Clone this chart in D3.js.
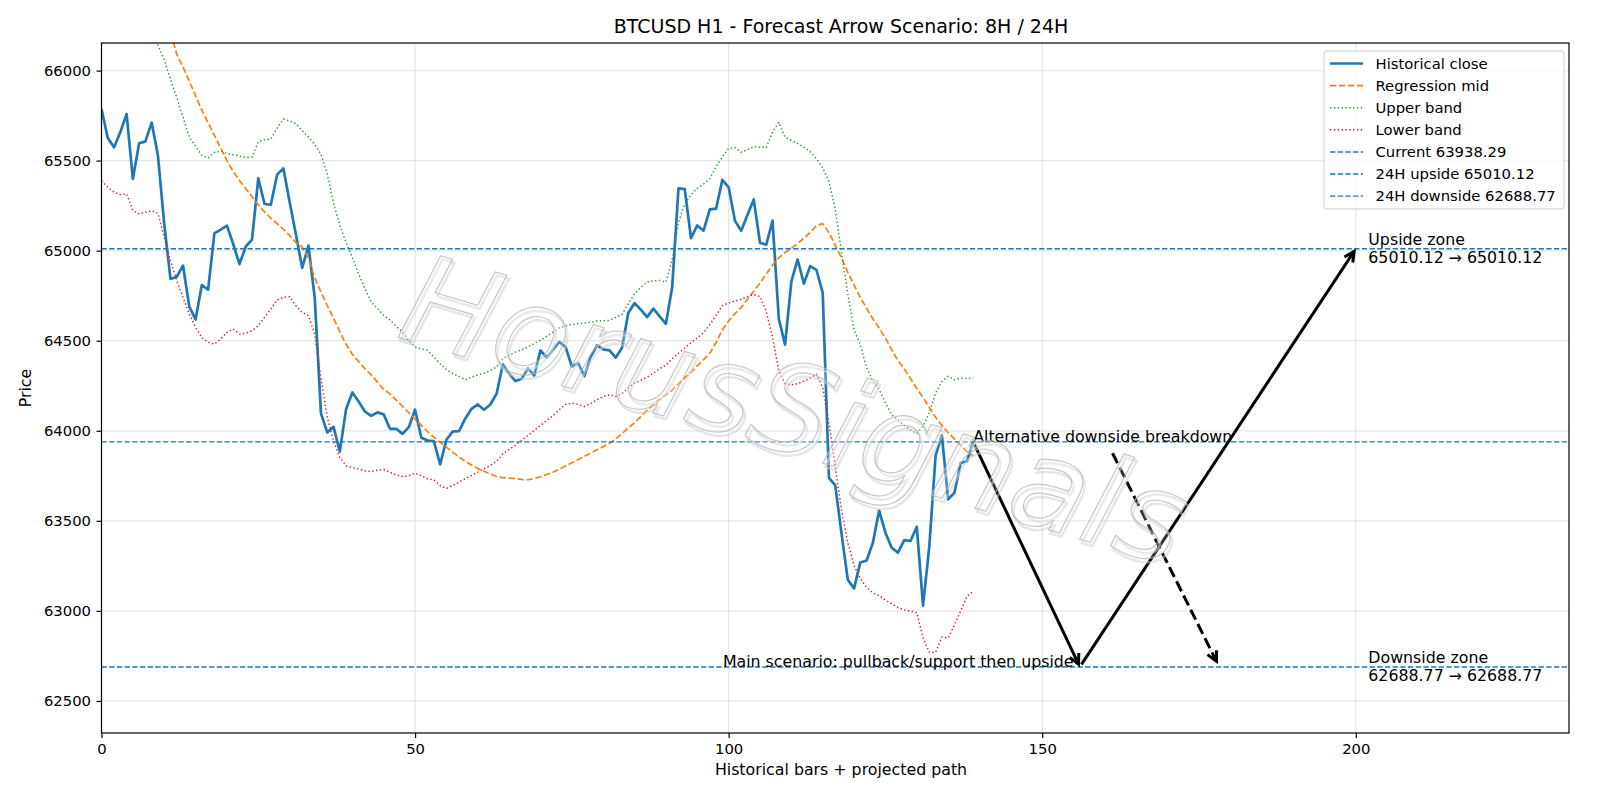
<!DOCTYPE html>
<html>
<head>
<meta charset="utf-8">
<script src="https://cdn.jsdelivr.net/npm/d3@7"></script>
<style>
html, body { margin: 0; padding: 0; background: #fff; }
svg { display: block; }
</style>
</head>
<body>
<div id="chart"></div>
<script>
// historical closes, one per H1 bar (index 0..139)
const closeVals = [
  65787, 65626, 65574, 65657, 65759, 65398, 65596, 65607, 65711, 65528,
  65150, 64843, 64855, 64917, 64689, 64618, 64809, 64783, 65096, 65117,
  65139, 65037, 64926, 65022, 65061, 65402, 65259, 65255, 65422, 65457,
  65270, 65090, 64904, 65028, 64740, 64096, 63991, 64022, 63885, 64120,
  64213, 64163, 64107, 64083, 64102, 64091, 64011, 64011, 63983, 64020,
  64117, 63961, 63946, 63943, 63813, 63950, 63996, 63998, 64067, 64122,
  64146, 64117, 64146, 64206, 64369, 64317, 64276, 64289, 64346, 64307,
  64446, 64406, 64450, 64493, 64465, 64357, 64376, 64304, 64409, 64474,
  64452, 64446, 64406, 64461, 64654, 64709, 64672, 64631, 64678, 64635,
  64594, 64798, 65346, 65342, 65070, 65140, 65111, 65229, 65233, 65393,
  65352, 65167, 65111, 65198, 65284, 65044, 65033, 65167, 64622, 64478,
  64828, 64951, 64817, 64914, 64893, 64766, 63738, 63697, 63430, 63173,
  63125, 63269, 63280, 63378, 63557, 63434, 63351, 63323, 63393, 63388,
  63467, 63029, 63358, 63862, 63975, 63619, 63656, 63821, 63831, 63938.29
];

// regression mid (first bars are not available)
const midVals = [
  null, null, null, null, null, null, null, null, null, null,
  66300, 66220, 66090, 66020, 65940, 65860, 65780, 65710, 65640, 65570,
  65500, 65440, 65390, 65345, 65300, 65255, 65215, 65180, 65150, 65120,
  65085, 65045, 65020, 64960, 64850, 64770, 64695, 64625, 64550, 64480,
  64425, 64385, 64345, 64310, 64270, 64230, 64205, 64170, 64135, 64100,
  64065, 64030, 63995, 63965, 63935, 63909, 63880, 63855, 63830, 63810,
  63790, 63775, 63760, 63746, 63740, 63737, 63734, 63730, 63728, 63735,
  63745, 63757, 63770, 63787, 63805, 63822, 63840, 63858, 63876, 63894,
  63912, 63930, 63955, 63985, 64015, 64045, 64078, 64113, 64145, 64175,
  64200, 64225, 64260, 64295, 64325, 64360, 64395, 64430, 64490, 64560,
  64610, 64650, 64684, 64730, 64775, 64820, 64870, 64920, 64960, 64990,
  65013, 65040, 65070, 65100, 65140, 65150, 65100, 65030, 64960, 64880,
  64810, 64740, 64680, 64622, 64570, 64515, 64450, 64390, 64345, 64290,
  64235, 64185, 64130, 64075, 64030, 63990, 63955, 63920, 63885, 63860
];

const upperVals = [
  null, null, null, null, null, null, null, null, 66200, 66140,
  66060, 65950, 65850, 65740, 65630, 65580, 65530, 65515, 65546, 65552,
  65540, 65533, 65525, 65518, 65520, 65605, 65615, 65620, 65680, 65731,
  65720, 65705, 65667, 65630, 65590, 65535, 65426, 65265, 65140, 65045,
  64960, 64870, 64790, 64715, 64680, 64640, 64615, 64580, 64548, 64502,
  64465, 64455, 64446, 64410, 64372, 64340, 64317, 64302, 64283, 64298,
  64310, 64320, 64335, 64354, 64400, 64420, 64437, 64450, 64465, 64485,
  64502, 64525, 64548, 64572, 64582, 64591, 64595, 64598, 64603, 64609,
  64611, 64613, 64630, 64646, 64706, 64761, 64797, 64826, 64832, 64835,
  64826, 64950, 65157, 65260, 65311, 65346, 65370, 65400, 65465, 65520,
  65568, 65572, 65547, 65560, 65578, 65575, 65572, 65660, 65712, 65630,
  65612, 65595, 65575, 65550, 65510, 65460, 65383, 65230, 64990, 64760,
  64560, 64478, 64350, 64275, 64230, 64155, 64090, 64060, 64030, 64005,
  63985, 64026, 64100, 64210, 64273, 64303, 64283, 64293, 64290, 64293
];

const lowerVals = [
  65389, 65352, 65324, 65311, 65315, 65222, 65204, 65213, 65222, 65207,
  65074, 64944, 64833, 64741, 64648, 64574, 64518, 64491, 64481, 64509,
  64546, 64565, 64537, 64541, 64555, 64583, 64630, 64676, 64726, 64741,
  64744, 64694, 64657, 64639, 64537, 64290, 64074, 63944, 63852, 63805,
  63796, 63787, 63778, 63774, 63781, 63785, 63770, 63755, 63746, 63750,
  63765, 63750, 63733, 63728, 63696, 63680, 63696, 63715, 63733, 63752,
  63770, 63789, 63807, 63831, 63872, 63896, 63920, 63946, 63974, 64002,
  64030, 64057, 64085, 64117, 64146, 64154, 64146, 64135, 64150, 64172,
  64191, 64200, 64190, 64206, 64239, 64265, 64280, 64298, 64320, 64345,
  64365, 64400, 64430, 64460, 64490, 64515, 64545, 64590, 64640, 64695,
  64710, 64720, 64730, 64745, 64756, 64745, 64663, 64519, 64334, 64262,
  64255, 64262, 64275, 64293, 64314, 64240, 64040, 63800, 63560, 63380,
  63250, 63180, 63130, 63100, 63085, 63060, 63040, 63020, 63005, 62998,
  62990, 62850, 62770, 62770, 62855, 62850, 62920, 63000, 63080, 63110
];

const levelNames = ["Current", "24H upside", "24H downside"];
const levelValues = [63938.29, 65010.12, 62688.77];

// projected paths [bar, price]
const mainPath = [[139, 63938.29], [156, 62688.77], [200, 65010.12]];
const altPath = [[161, 63890], [178, 62705]];

const xTicks = [0, 50, 100, 150, 200];
const yTicks = [62500, 63000, 63500, 64000, 64500, 65000, 65500, 66000];
const xDomain = [0, 234];
const yDomain = [62322, 66153];

const W = 1600, H = 800;
const plot = {left: 101.5, right: 1569, top: 43, bottom: 733};
const FONT = "DejaVu Sans, sans-serif";
const fsTick = 14.8, fsText = 15.8, fsTitle = 19;

const svg = d3.select("#chart").append("svg")
  .attr("width", W).attr("height", H)
  .attr("font-family", FONT);

const x = d3.scaleLinear().domain(xDomain).range([plot.left, plot.right]);
const y = d3.scaleLinear().domain(yDomain).range([plot.bottom, plot.top]);

svg.append("defs").append("clipPath").attr("id", "clip")
  .append("rect")
  .attr("x", plot.left).attr("y", plot.top)
  .attr("width", plot.right - plot.left).attr("height", plot.bottom - plot.top);

// grid
const grid = svg.append("g").attr("stroke", "#e6e6e6").attr("stroke-width", 1.2);
grid.selectAll(".gx").data(xTicks).enter().append("line")
  .attr("x1", d => x(d)).attr("x2", d => x(d))
  .attr("y1", plot.top).attr("y2", plot.bottom);
grid.selectAll(".gy").data(yTicks).enter().append("line")
  .attr("x1", plot.left).attr("x2", plot.right)
  .attr("y1", d => y(d)).attr("y2", d => y(d));

const plotArea = svg.append("g").attr("clip-path", "url(#clip)");

function seriesLine(vals) {
  return d3.line()
    .defined(d => d != null)
    .x((d, i) => x(i))
    .y(d => y(d))(vals);
}

const series = [
  {label: "Historical close", vals: closeVals, color: "#1f77b4", width: 2.7, dash: null},
  {label: "Regression mid", vals: midVals, color: "#ff7f0e", width: 1.7, dash: [3.7, 1.6]},
  {label: "Upper band", vals: upperVals, color: "#2ca02c", width: 1.45, dash: [1, 1.65]},
  {label: "Lower band", vals: lowerVals, color: "#d62728", width: 1.45, dash: [1, 1.65]}
];

function dashStr(s) {
  return s.dash ? s.dash.map(v => v * s.width).join(",") : null;
}

series.forEach(s => {
  plotArea.append("path")
    .attr("d", seriesLine(s.vals))
    .attr("fill", "none")
    .attr("stroke", s.color)
    .attr("stroke-width", s.width)
    .attr("stroke-dasharray", dashStr(s))
    .attr("stroke-linejoin", "round");
});

// level lines
const levelStyle = {color: "#1f77b4", width: 1.45, dash: [3.7, 1.6]};
levelValues.forEach(v => {
  plotArea.append("line")
    .attr("x1", plot.left).attr("x2", plot.right)
    .attr("y1", y(v)).attr("y2", y(v))
    .attr("stroke", levelStyle.color)
    .attr("stroke-width", levelStyle.width)
    .attr("stroke-dasharray", dashStr(levelStyle));
});

// arrows
function drawArrow(p0, p1, dashed) {
  const x0 = x(p0[0]), y0 = y(p0[1]), x1 = x(p1[0]), y1 = y(p1[1]);
  const len = Math.hypot(x1 - x0, y1 - y0);
  const ux = (x1 - x0) / len, uy = (y1 - y0) / len;
  const shrink = 3, lw = 3;
  const sx = x0 + ux * shrink, sy = y0 + uy * shrink;
  const ex = x1 - ux * shrink, ey = y1 - uy * shrink;
  plotArea.append("line")
    .attr("x1", sx).attr("y1", sy).attr("x2", ex).attr("y2", ey)
    .attr("stroke", "#000").attr("stroke-width", lw)
    .attr("stroke-dasharray", dashed ? [3.7 * lw, 1.6 * lw].join(",") : null);
  const L = 10, Hw = 5;
  const bx = ex - ux * L, by = ey - uy * L;
  plotArea.append("path")
    .attr("d", `M${bx - uy * Hw},${by + ux * Hw}L${ex},${ey}L${bx + uy * Hw},${by - ux * Hw}`)
    .attr("fill", "none").attr("stroke", "#000").attr("stroke-width", lw)
    .attr("stroke-linejoin", "miter");
}
for (let i = 0; i < mainPath.length - 1; i++) drawArrow(mainPath[i], mainPath[i + 1], false);
drawArrow(altPath[0], altPath[1], true);

// annotations
const ann = svg.append("g").attr("font-size", fsText).attr("fill", "#000").attr("font-family", FONT);
ann.append("text")
  .attr("x", x(mainPath[1][0] - 1)).attr("y", y(levelValues[2]))
  .attr("text-anchor", "end")
  .text("Main scenario: pullback/support then upside");
ann.append("text")
  .attr("x", x(mainPath[0][0])).attr("y", y(levelValues[0]))
  .text("Alternative downside breakdown");

function zoneText(title, v) {
  const t = ann.append("text").attr("x", x(202)).attr("y", y(v));
  t.append("tspan").attr("x", x(202)).attr("dy", "-0.22em").text(title);
  t.append("tspan").attr("x", x(202)).attr("dy", "1.12em")
    .text(`${v.toFixed(2)} \u2192 ${v.toFixed(2)}`);
}
zoneText("Upside zone", levelValues[1]);
zoneText("Downside zone", levelValues[2]);

// watermark
const wm = svg.append("g")
  .attr("transform", "translate(795,410) rotate(16.5)")
  .attr("font-family", FONT)
  .attr("font-size", 124).attr("font-style", "italic")
  .attr("text-anchor", "middle").attr("dominant-baseline", "central");
wm.append("text").attr("x", 3).attr("y", 3).text("HorusSignals")
  .attr("fill", "none").attr("stroke", "#d2d2d2").attr("stroke-width", 2.5).attr("opacity", 0.55);
wm.append("text").text("HorusSignals")
  .attr("fill", "#fff").attr("fill-opacity", 0.25)
  .attr("stroke", "#bababa").attr("stroke-width", 1.2).attr("opacity", 0.8);

// spines
svg.append("rect")
  .attr("x", plot.left).attr("y", plot.top)
  .attr("width", plot.right - plot.left).attr("height", plot.bottom - plot.top)
  .attr("fill", "none").attr("stroke", "#000").attr("stroke-width", 1.2);

// axes
const tickLen = 5;
const xAxis = svg.append("g").attr("transform", `translate(0,${plot.bottom})`)
  .call(d3.axisBottom(x).tickValues(xTicks).tickSize(tickLen).tickPadding(5.5).tickFormat(d3.format("d")));
const yAxis = svg.append("g").attr("transform", `translate(${plot.left},0)`)
  .call(d3.axisLeft(y).tickValues(yTicks).tickSize(tickLen).tickPadding(5.5).tickFormat(d3.format("d")));
[xAxis, yAxis].forEach(a => {
  a.attr("font-family", FONT).attr("font-size", fsTick);
  a.select(".domain").remove();
  a.selectAll(".tick line").attr("stroke", "#000").attr("stroke-width", 1.2);
  a.selectAll(".tick text").attr("fill", "#000");
});

const labels = svg.append("g").attr("font-family", FONT).attr("fill", "#000");
labels.append("text")
  .attr("x", 841).attr("y", 775)
  .attr("text-anchor", "middle").attr("font-size", fsText)
  .text("Historical bars + projected path");
labels.append("text")
  .attr("transform", `translate(31,${(plot.top + plot.bottom) / 2}) rotate(-90)`)
  .attr("text-anchor", "middle").attr("font-size", fsText)
  .text("Price");
labels.append("text")
  .attr("x", 841).attr("y", 33.3)
  .attr("text-anchor", "middle").attr("font-size", fsTitle)
  .text("BTCUSD H1 - Forecast Arrow Scenario: 8H / 24H");

// legend
const legendItems = series.map(s => ({label: s.label, color: s.color, width: s.width, dash: s.dash}))
  .concat(levelNames.map((n, i) => ({
    label: `${n} ${levelValues[i].toFixed(2)}`,
    color: levelStyle.color, width: levelStyle.width, dash: levelStyle.dash
  })));

const lg = svg.append("g").attr("transform", "translate(1324,51)").attr("font-family", FONT);
lg.append("rect")
  .attr("width", 240).attr("height", 158).attr("rx", 3)
  .attr("fill", "#fff").attr("fill-opacity", 0.8)
  .attr("stroke", "#cccccc").attr("stroke-width", 1);
legendItems.forEach((d, i) => {
  const ry = 12.5 + i * 22.1;
  lg.append("line")
    .attr("x1", 6).attr("x2", 39).attr("y1", ry).attr("y2", ry)
    .attr("stroke", d.color).attr("stroke-width", d.width)
    .attr("stroke-dasharray", dashStr(d));
  lg.append("text")
    .attr("x", 51.5).attr("y", ry).attr("dy", "0.36em")
    .attr("font-size", fsTick).text(d.label);
});
</script>
</body>
</html>
